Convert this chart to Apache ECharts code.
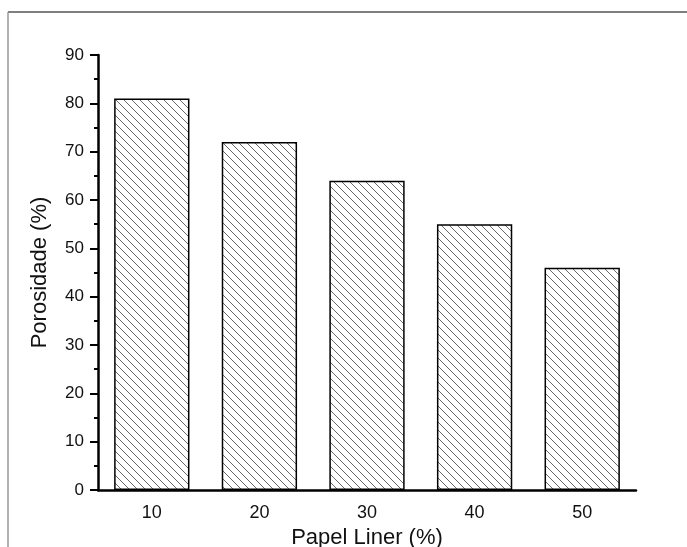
<!DOCTYPE html>
<html>
<head>
<meta charset="utf-8">
<script src="https://cdn.jsdelivr.net/npm/echarts@6/dist/echarts.min.js"></script>
<style>html,body{margin:0;padding:0;background:#fff;}#c{width:687px;height:547px;}</style>
</head>
<body>
<div id="c"></div>
<script>
const categories = ['10', '20', '30', '40', '50'];
const porosity = [81, 72, 64, 55, 46];
const yTicks = { min: 0, max: 90, interval: 10 };
const xName = 'Papel Liner (%)';
const yName = 'Porosidade (%)';

function hatch() {
  const s = 8;
  const cv = document.createElement('canvas');
  cv.width = s; cv.height = s;
  const ctx = cv.getContext('2d');
  ctx.fillStyle = '#fff';
  ctx.fillRect(0, 0, s, s);
  ctx.strokeStyle = '#6a6a6a';
  ctx.lineWidth = 1;
  [-s, 0, s].forEach(c => {
    ctx.beginPath();
    ctx.moveTo(-s, -s + c);
    ctx.lineTo(2 * s, 2 * s + c);
    ctx.stroke();
  });
  return cv;
}

const font = 'Liberation Sans, Arial, sans-serif';
const chart = echarts.init(document.getElementById('c'), null, { renderer: 'canvas' });
chart.setOption({
  animation: false,
  backgroundColor: '#fff',
  grid: { left: 98, right: 51, top: 55, bottom: 57, containLabel: false, outerBoundsMode: 'none' },
  graphic: [
    { type: 'line', shape: { x1: 8, y1: 12, x2: 687, y2: 12 }, style: { stroke: '#555', lineWidth: 1.5 } },
    { type: 'line', shape: { x1: 8, y1: 12, x2: 8, y2: 547 }, style: { stroke: '#999', lineWidth: 1.5 } }
  ],
  xAxis: [{
    type: 'category',
    data: categories,
    boundaryGap: true,
    name: xName,
    nameLocation: 'middle',
    nameGap: 35,
    nameTextStyle: { fontFamily: font, fontSize: 22, color: '#111' },
    axisLine: { lineStyle: { color: '#000', width: 2.5 } },
    axisTick: { alignWithLabel: true, length: 7, lineStyle: { color: '#000', width: 2 } },
    axisLabel: { fontFamily: font, fontSize: 18, color: '#111', margin: 14 },
    splitLine: { show: false }
  }, {
    type: 'category',
    data: categories,
    boundaryGap: true,
    position: 'bottom',
    axisLine: { show: false },
    axisTick: { alignWithLabel: false, length: 4, lineStyle: { color: '#000', width: 2 } },
    axisLabel: { show: false },
    splitLine: { show: false }
  }],
  yAxis: {
    type: 'value',
    min: yTicks.min, max: yTicks.max, interval: yTicks.interval,
    name: yName,
    nameLocation: 'middle',
    nameGap: 47,
    nameTextStyle: { fontFamily: font, fontSize: 22, color: '#111' },
    axisLine: { show: true, lineStyle: { color: '#000', width: 2.5 } },
    axisTick: { show: true, length: 8, lineStyle: { color: '#000', width: 2 } },
    minorTick: { show: true, splitNumber: 2, length: 4, lineStyle: { color: '#000', width: 2 } },
    axisLabel: { fontFamily: font, fontSize: 17, color: '#111', margin: 14 },
    splitLine: { show: false }
  },
  series: [{
    type: 'bar',
    data: porosity,
    barWidth: '70%',
    itemStyle: {
      color: { image: hatch(), repeat: 'repeat' },
      borderColor: '#000',
      borderWidth: 1.5
    }
  }]
});
</script>
</body>
</html>
